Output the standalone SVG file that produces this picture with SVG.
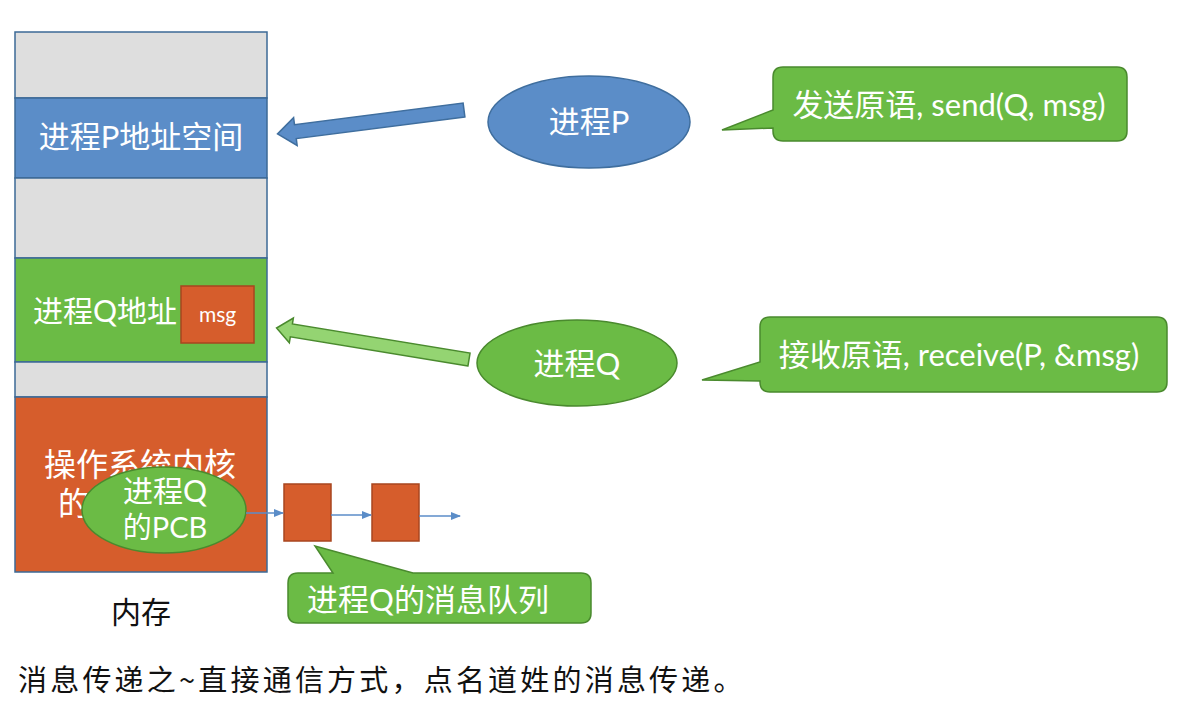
<svg xmlns="http://www.w3.org/2000/svg" width="1180" height="706" viewBox="0 0 1180 706">
<style>
.t{font-family:Lato,"Noto Sans CJK SC",sans-serif;fill:#fff}
.k{font-family:"Noto Sans CJK SC",sans-serif;fill:#111}
.seg{stroke:#3c6a96;stroke-width:1.5}
.gray{fill:#dedede}
.blue{fill:#5b8dc8;stroke:#3f6e9e;stroke-width:1.5}
.green{fill:#6bbb45;stroke:#4a8a2e;stroke-width:1.5}
.orange{fill:#d65d2c;stroke:#a8461f;stroke-width:1.5}
.thin{stroke:#5b8dc8;stroke-width:1.5;fill:none}
</style>
<defs>
<marker id="ah" markerWidth="10" markerHeight="10" refX="9" refY="5" orient="auto" markerUnits="userSpaceOnUse">
<path d="M0,1 L10,5 L0,9 Z" fill="#5b8dc8"/>
</marker>
</defs>
<rect width="1180" height="706" fill="#fff"/>
<g id="memory">
<rect class="gray seg" x="15" y="32" width="252" height="66"/>
<rect class="seg" x="15" y="98" width="252" height="80" fill="#5b8dc8"/>
<rect class="gray seg" x="15" y="178" width="252" height="80"/>
<rect class="seg" x="15" y="258" width="252" height="104" fill="#6bbb45"/>
<rect class="gray seg" x="15" y="362" width="252" height="35"/>
<rect class="seg" x="15" y="397" width="252" height="175" fill="#d65d2c"/>
<text class="t" x="141" y="148" font-size="31" text-anchor="middle">进程P地址空间</text>
<text class="t" x="33" y="322" font-size="30">进程Q地址</text>
<text class="t" x="44" y="476" font-size="32">操作系统内核</text>
<text class="t" x="58" y="515" font-size="32">的</text>
</g>
<g id="msg">
<rect class="orange" x="181" y="286" width="73" height="57"/>
<text class="t" x="217.5" y="322" font-size="21" text-anchor="middle">msg</text>
</g>
<g id="pcb">
<ellipse class="green" cx="164" cy="510" rx="82" ry="43"/>
<text class="t" x="165" y="502" font-size="30" text-anchor="middle">进程Q</text>
<text class="t" x="165" y="538" font-size="29" text-anchor="middle">的PCB</text>
</g>
<g id="queue1"><rect class="orange" x="284" y="484" width="47" height="57"/></g>
<g id="queue2"><rect class="orange" x="372" y="484" width="47" height="57"/></g>
<g id="procP">
<ellipse class="blue" cx="589" cy="122" rx="101" ry="46"/>
<text class="t" x="589" y="133" font-size="31" text-anchor="middle">进程P</text>
</g>
<g id="procQ">
<ellipse class="green" cx="577" cy="363" rx="100" ry="43"/>
<text class="t" x="577" y="375" font-size="31" text-anchor="middle">进程Q</text>
</g>
<g id="callout-send">
<path class="green" d="M783,67 H1117 Q1127,67 1127,77 V131 Q1127,141 1117,141 H783 Q773,141 773,131 V128 L722,130 L773,110 V77 Q773,67 783,67 Z"/>
<text class="t" x="949" y="116" font-size="31" text-anchor="middle">发送原语, send(Q, msg)</text>
</g>
<g id="callout-receive">
<path class="green" d="M770,317 H1157 Q1167,317 1167,327 V382 Q1167,392 1157,392 H770 Q760,392 760,382 V381 L702,380 L760,362 V327 Q760,317 770,317 Z"/>
<text class="t" x="959" y="366" font-size="31" text-anchor="middle">接收原语, receive(P, &amp;msg)</text>
</g>
<g id="callout-queue">
<path class="green" d="M298,573 H333 L315,546 L413,573 H581 Q591,573 591,583 V613 Q591,623 581,623 H298 Q288,623 288,613 V583 Q288,573 298,573 Z"/>
<text class="t" x="428" y="611" font-size="31" text-anchor="middle">进程Q的消息队列</text>
</g>
<g id="connectors">
<polygon transform="translate(464,110) rotate(172.7)" points="0,-7 170,-7 170,-14 188,0 170,14 170,7 0,7" fill="#5b8dc8" stroke="#3f6e9e" stroke-width="1.5"/>
<polygon transform="translate(469,359.5) rotate(189.3)" points="0,-6.5 180,-6.5 180,-12.5 195,0 180,12.5 180,6.5 0,6.5" fill="#94d472" stroke="#4a8a2e" stroke-width="1.5"/>
<line class="thin" x1="246" y1="513" x2="283" y2="513" marker-end="url(#ah)"/>
<line class="thin" x1="331" y1="515" x2="371" y2="515" marker-end="url(#ah)"/>
<line class="thin" x1="419" y1="516" x2="460" y2="516" marker-end="url(#ah)"/>
</g>
<g id="labels">
<text class="k" x="141" y="623" font-size="30" text-anchor="middle">内存</text>
<text class="k" x="18" y="691" font-size="29" letter-spacing="3.2">消息传递之~直接通信方式，点名道姓的消息传递。</text>
</g>
</svg>
